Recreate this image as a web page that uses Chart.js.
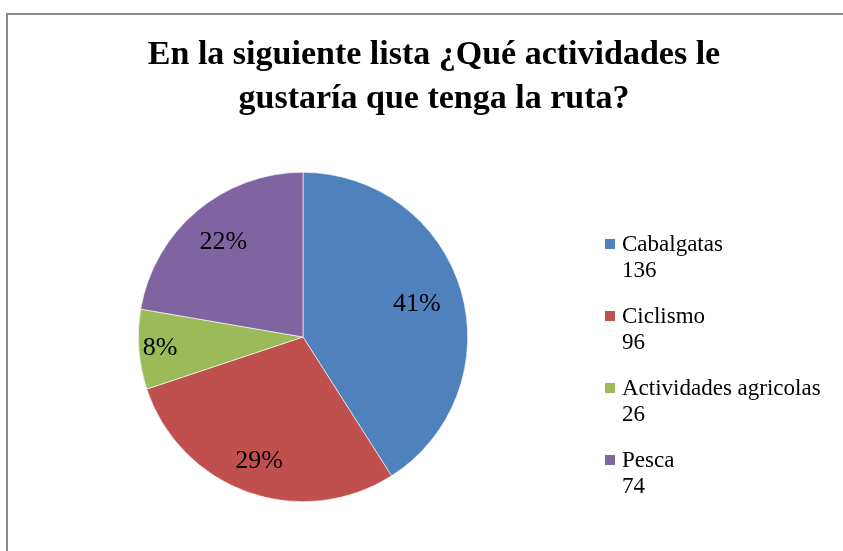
<!DOCTYPE html>
<html>
<head>
<meta charset="utf-8">
<script src="https://cdn.jsdelivr.net/npm/chart.js@4.4.1/dist/chart.umd.min.js"></script>
<style>
  html, body { margin: 0; padding: 0; background: #fff; }
  #wrap { width: 843px; height: 551px; }
</style>
</head>
<body>
<div id="wrap"><canvas id="myChart" width="843" height="551"></canvas></div>
<script>
var titleLines = ['En la siguiente lista ¿Qué actividades le', 'gustaría que tenga la ruta?'];
var categories = ['Cabalgatas', 'Ciclismo', 'Actividades agricolas', 'Pesca'];
var values = [136, 96, 26, 74];
var colors = ['#4F81BD', '#C0504D', '#9BBB59', '#8064A2'];

var serif = '"Liberation Serif", "Times New Roman", serif';

// titulo, marco y leyenda dibujados a mano
var extras = {
  id: 'extras',
  beforeDraw: function (chart) {
    var c = chart.ctx;
    c.save();
    c.strokeStyle = '#8a8a8a';
    c.lineWidth = 2;
    c.beginPath();
    c.moveTo(7, 551);
    c.lineTo(7, 14);
    c.lineTo(843, 14);
    c.stroke();
    c.restore();
  },
  afterDraw: function (chart) {
    var c = chart.ctx;
    c.save();
    c.fillStyle = '#000';

    // titulo
    c.font = 'bold 34px ' + serif;
    c.textAlign = 'center';
    c.textBaseline = 'alphabetic';
    c.fillText(titleLines[0], 434, 64);
    c.fillText(titleLines[1], 434, 108);

    // porcentajes
    var total = values.reduce(function (a, b) { return a + b; }, 0);
    var fr = [0.72, 0.8, 0.87, 0.75];
    var meta = chart.getDatasetMeta(0);
    c.font = '26px ' + serif;
    c.textBaseline = 'middle';
    meta.data.forEach(function (arc, i) {
      var p = arc.getProps(['x', 'y', 'startAngle', 'endAngle', 'outerRadius'], true);
      var mid = (p.startAngle + p.endAngle) / 2;
      var r = p.outerRadius * fr[i];
      var pct = Math.round(values[i] / total * 100) + '%';
      c.fillText(pct, p.x + Math.cos(mid) * r, p.y + Math.sin(mid) * r);
    });

    // leyenda
    c.textAlign = 'left';
    c.textBaseline = 'alphabetic';
    c.font = '23px ' + serif;
    categories.forEach(function (name, i) {
      var base = 251 + i * 72;
      c.fillStyle = colors[i];
      c.fillRect(605, base - 12, 10, 10);
      c.fillStyle = '#000';
      c.fillText(name, 622, base);
      c.fillText(String(values[i]), 622, base + 26);
    });
    c.restore();
  }
};

var ctx = document.getElementById('myChart').getContext('2d');
var pieChart = new Chart(ctx, {
  type: 'pie',
  data: {
    labels: categories,
    datasets: [{
      data: values,
      backgroundColor: colors,
      borderColor: '#ffffff',
      borderWidth: 0.6,
      hoverOffset: 0
    }]
  },
  options: {
    responsive: false,
    animation: false,
    layout: {
      padding: { left: 138, right: 375, top: 172, bottom: 49 }
    },
    plugins: {
      legend: { display: false },
      tooltip: { enabled: false },
      title: { display: false }
    }
  },
  plugins: [extras]
});
</script>
</body>
</html>
